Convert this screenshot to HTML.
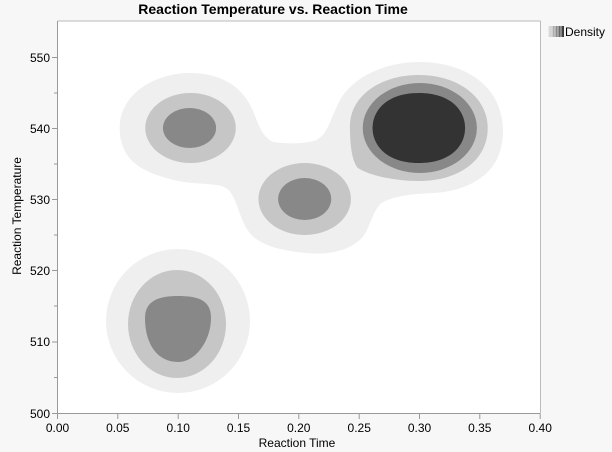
<!DOCTYPE html>
<html><head><style>
body{margin:0;background:#f7f7f7;font-family:"Liberation Sans",sans-serif;}
</style></head><body>
<svg width="612" height="452" xmlns="http://www.w3.org/2000/svg" style="display:block">
<rect width="612" height="452" fill="#f7f7f7"/>
<text x="273" y="14" text-anchor="middle" font-size="14" font-weight="bold" fill="#000">Reaction Temperature vs. Reaction Time</text>
<rect x="57.5" y="21" width="482.5" height="392" fill="#fff"/>
<g transform="matrix(0.984,0,0,1,1.6,0)">
<path fill="#efefef" d="M120,127 C120,95 155,73 191,73 C225,73 243,88 252,104 C260,118 262,136 276,142 C290,144 310,144 320,140 C332,134 334,118 344,100 C355,80 385,62 425,62 C465,62 492,80 502,100 C515,125 510,155 496,170 C482,185 460,192 439,193 C420,194 400,195 386,203 C376,212 374,230 366,238 C352,252 330,255 310,253 C285,251 266,246 255,236 C244,225 242,210 236,198 C232,190 228,186 218,185 C205,183 195,184 180,181 C160,177 140,170 130,158 C122,148 120,138 120,127 Z"/>
<g fill="#c6c6c6">
<ellipse cx="192" cy="128" rx="46" ry="35"/>
<path d="M354,126 C354,96 385,75 424,75 C465,75 494,98 494,128 C494,160 465,181 424,181 C400,181 375,176 362,168 C355,160 354,140 354,126 Z"/>
<ellipse cx="308" cy="199" rx="47" ry="36"/>
</g>
<g fill="#888">
<ellipse cx="191" cy="128" rx="27" ry="20"/>
<ellipse cx="425" cy="128" rx="58" ry="45"/>
<ellipse cx="308" cy="199" rx="27" ry="21"/>
</g>
<path fill="#333" d="M377,128 C377,110 392,93 424,93 C456,93 471,110 471,128 C471,146 456,163 424,163 C392,163 377,146 377,128 Z"/>
</g>
<ellipse cx="178" cy="321" rx="72" ry="72" fill="#efefef"/>
<ellipse cx="177" cy="324" rx="49" ry="54" fill="#c6c6c6"/>
<path fill="#888" d="M145,318 C145,300 160,296 178,296 C198,296 211,300 211,318 C211,340 196,362 178,362 C158,362 145,345 145,318 Z"/>
<!-- axes -->
<line x1="57.5" y1="21" x2="540.5" y2="21" stroke="#bbb"/>
<line x1="540.5" y1="21" x2="540.5" y2="413" stroke="#bbb"/>
<line x1="57.5" y1="21" x2="57.5" y2="413.5" stroke="#999"/>
<line x1="57" y1="413.5" x2="540.5" y2="413.5" stroke="#999"/>
<g stroke="#999">
<line x1="52" y1="57.5" x2="57" y2="57.5"/><line x1="54" y1="93" x2="57" y2="93"/>
<line x1="52" y1="128.5" x2="57" y2="128.5"/><line x1="54" y1="164" x2="57" y2="164"/>
<line x1="52" y1="199.5" x2="57" y2="199.5"/><line x1="54" y1="235" x2="57" y2="235"/>
<line x1="52" y1="270.5" x2="57" y2="270.5"/><line x1="54" y1="306" x2="57" y2="306"/>
<line x1="52" y1="342" x2="57" y2="342"/><line x1="54" y1="377.5" x2="57" y2="377.5"/>
<line x1="52" y1="413.5" x2="57" y2="413.5"/>
<line x1="57.5" y1="414" x2="57.5" y2="419"/><line x1="117.8" y1="414" x2="117.8" y2="419"/>
<line x1="178.2" y1="414" x2="178.2" y2="419"/><line x1="238.5" y1="414" x2="238.5" y2="419"/>
<line x1="298.8" y1="414" x2="298.8" y2="419"/><line x1="359.2" y1="414" x2="359.2" y2="419"/>
<line x1="419.5" y1="414" x2="419.5" y2="419"/><line x1="479.8" y1="414" x2="479.8" y2="419"/>
<line x1="540.2" y1="414" x2="540.2" y2="419"/>
</g>
<g font-size="12" fill="#000" text-anchor="end">
<text x="50" y="62">550</text><text x="50" y="133">540</text><text x="50" y="204">530</text>
<text x="50" y="275">520</text><text x="50" y="346">510</text><text x="50" y="418">500</text>
</g>
<g font-size="12" fill="#000" text-anchor="middle">
<text x="57.5" y="432">0.00</text><text x="117.8" y="432">0.05</text><text x="178.2" y="432">0.10</text>
<text x="238.5" y="432">0.15</text><text x="298.8" y="432">0.20</text><text x="359.2" y="432">0.25</text>
<text x="419.5" y="432">0.30</text><text x="479.8" y="432">0.35</text><text x="540.2" y="432">0.40</text>
</g>
<text x="297" y="447" text-anchor="middle" font-size="12">Reaction Time</text>
<text transform="translate(21,216) rotate(-90)" text-anchor="middle" font-size="12">Reaction Temperature</text>
<defs><linearGradient id="g" x1="0" x2="1"><stop offset="0" stop-color="#eee"/><stop offset="1" stop-color="#333"/></linearGradient></defs>
<rect x="548" y="26" width="16" height="11" fill="url(#g)"/>
<g stroke="#fff" stroke-width="0.6"><line x1="552" y1="26" x2="552" y2="37"/><line x1="555" y1="26" x2="555" y2="37"/><line x1="558" y1="26" x2="558" y2="37"/><line x1="561" y1="26" x2="561" y2="37"/></g>
<text x="565" y="36" font-size="12">Density</text>
</svg>
</body></html>
